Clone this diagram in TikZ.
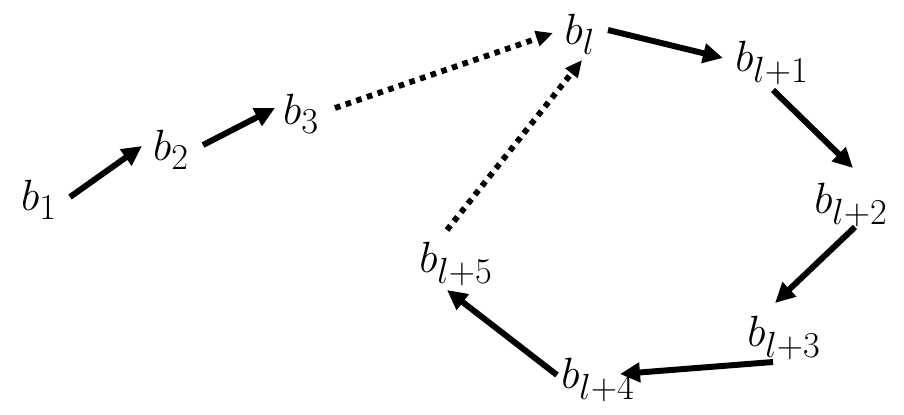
\documentclass[tikz,border=0pt]{standalone}
\usepackage{tikz}
\usetikzlibrary{arrows.meta,calc}
\definecolor{cink}{HTML}{000000}

\begin{document}
\begin{tikzpicture}[x=0.02cm, y=-0.02cm, every node/.style={font=\fontsize{28}{32}\selectfont, inner sep=0pt},
    solidarr/.style={cink, line width=3.4pt, -{Triangle[length=0.4cm,width=0.38cm]}},
    dotarr/.style={cink, line width=3.3pt, dash pattern=on 3.2pt off 3.2pt, -{Triangle[length=0.34cm,width=0.3cm]}}]
      \useasboundingbox (0,0) rectangle (904,414);
      \foreach \n/\x/\y/\t in {b1/39/200/b_1, b2/171/150/b_2, b3/301/114/b_3, bl/580/34/b_l, bl1/772/63/b_{l+1}, bl2/851/205/b_{l+2}, bl3/784/338/b_{l+3}, bl4/598/380/b_{l+4}, bl5/456/264/b_{l+5}}
        \node (\n) at (\x,\y) {$\t$};
      \foreach \a/\ax/\ay/\b/\bx/\by in {b1/31/-3/b2/-29/-4, b2/32/-5/b3/-26/-6, bl/28/-4/bl1/-49/-5, bl1/1/27/bl2/2/-37, bl2/4/22/bl3/-9/-35, bl3/-11/24/bl4/22/-6, bl4/-41/-5/bl5/-9/26}
        \draw[solidarr] ($(\a)+(\ax,\ay)$) -- ($(\b)+(\bx,\by)$);
      \draw[dotarr] ($(b3)+(34,-6)$) -- ($(bl)+(-27,-1)$);
      \draw[dotarr] ($(bl5)+(-9,-34)$) -- ($(bl)+(2,26)$);
    \end{tikzpicture}
\end{document}
